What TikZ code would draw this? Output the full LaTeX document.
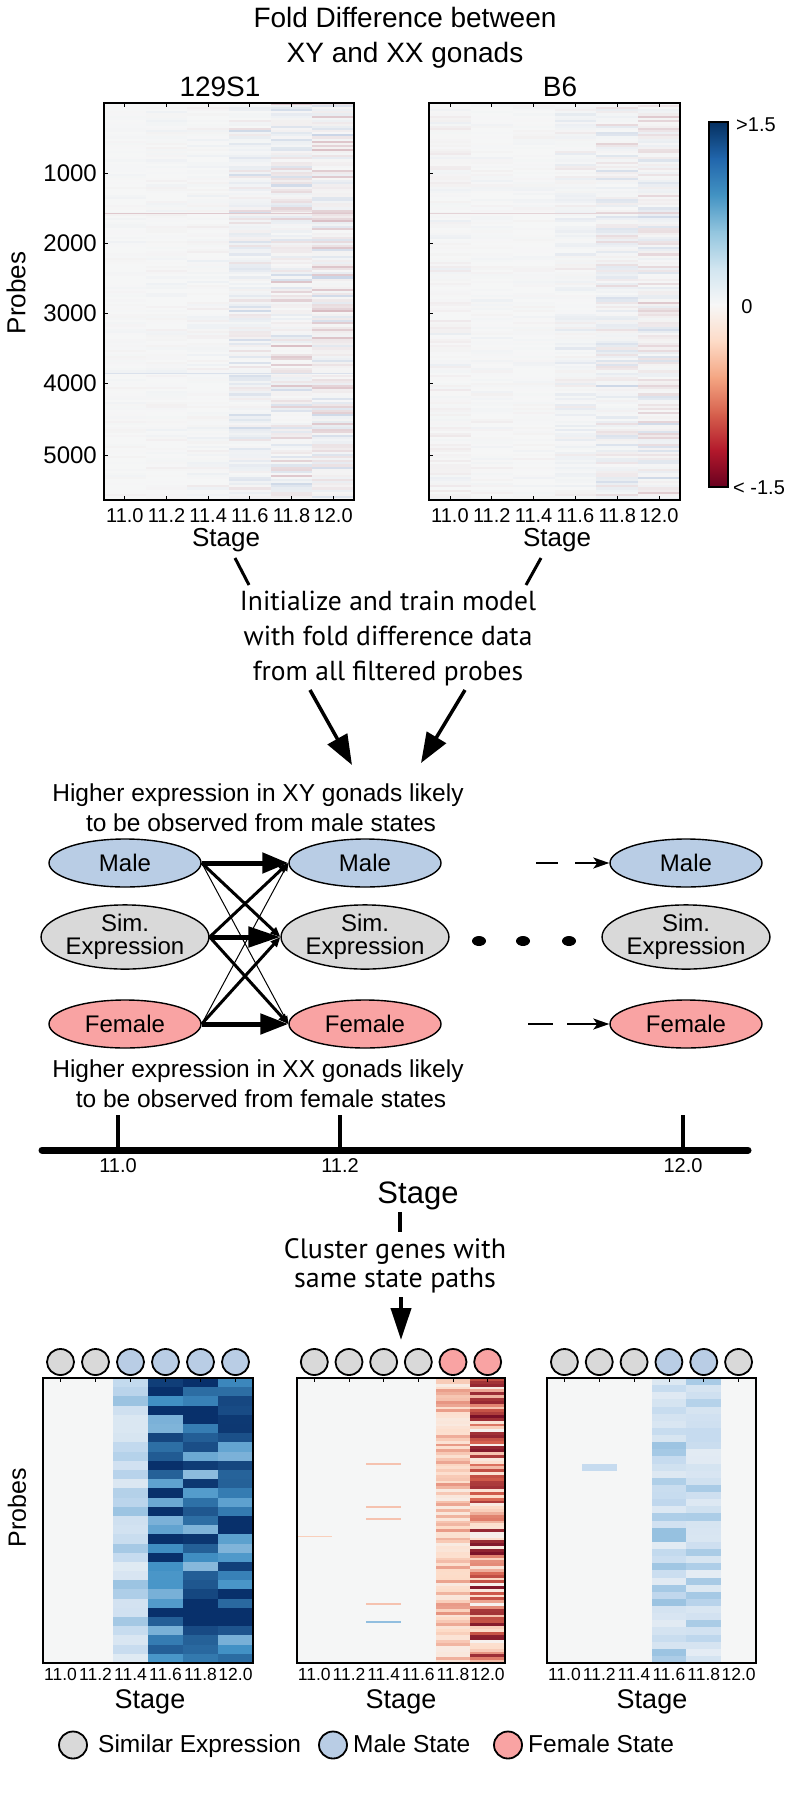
\documentclass[tikz,border=0pt]{standalone}
\usepackage{fontspec}
\setmainfont{Liberation Sans}
\newfontfamily\hum{PT Sans}
\usetikzlibrary{shapes.geometric,arrows.meta}
\definecolor{bgc}{HTML}{F5F6F6}
\definecolor{bL}{HTML}{C6DBEF}
\definecolor{bM}{HTML}{4292C6}
\definecolor{bD}{HTML}{08306B}
\definecolor{rL}{HTML}{FDDBC7}
\definecolor{rM}{HTML}{D6604D}
\definecolor{rD}{HTML}{67001F}
\definecolor{tB}{HTML}{BFCDE2}
\definecolor{tR}{HTML}{D9BCC2}
\definecolor{maleC}{HTML}{B9CDE5}
\definecolor{simC}{HTML}{D9D9D9}
\definecolor{femC}{HTML}{F9A3A3}
\definecolor{cbA}{HTML}{053061}
\definecolor{cbB}{HTML}{2166AC}
\definecolor{cbC}{HTML}{4393C3}
\definecolor{cbD}{HTML}{92C5DE}
\definecolor{cbE}{HTML}{D1E5F0}
\definecolor{cbF}{HTML}{F7F7F7}
\definecolor{cbG}{HTML}{FDDBC7}
\definecolor{cbH}{HTML}{F4A582}
\definecolor{cbI}{HTML}{D6604D}
\definecolor{cbJ}{HTML}{B2182B}
\definecolor{cbK}{HTML}{67001F}
\newcommand\fsz[2]{\fontsize{#1}{#2}\selectfont}
\newcommand\setcc[1]{%
  \pgfmathsetmacro\ccv{#1}%
  \pgfmathsetmacro\cca{min(1,abs(\ccv))}%
  \ifdim\ccv pt<0pt \def\ccA{rL}\def\ccB{rM}\def\ccC{rD}\else\def\ccA{bL}\def\ccB{bM}\def\ccC{bD}\fi
  \ifdim\cca pt<0.333pt
    \pgfmathtruncatemacro\ccp{\cca*300}\colorlet{cc}{\ccA!\ccp!bgc}%
  \else\ifdim\cca pt<0.666pt
    \pgfmathtruncatemacro\ccp{(\cca-0.333)*300}\colorlet{cc}{\ccB!\ccp!\ccA}%
  \else
    \pgfmathtruncatemacro\ccp{min(100,(\cca-0.666)*300)}\colorlet{cc}{\ccC!\ccp!\ccB}%
  \fi\fi}
\newcommand\hcol[6]{%
  \pgfmathsetmacro\hsh{(#4-#3)/#5}%
  \foreach \hr in {1,...,#5}{%
    \pgfmathsetmacro\hya{#3+(\hr-1)*\hsh}%
    \pgfmathsetmacro\hyb{#3+\hr*\hsh+0.3}%
    \setcc{#6}%
    \fill[cc] (#1,\hya) rectangle (#2,\hyb);%
  }}
\newcommand\hcolT[6]{%
  \pgfmathsetmacro\hsh{(#4-#3)/#5}%
  \foreach \hr in {1,...,#5}{%
    \pgfmathsetmacro\hya{#3+(\hr-1)*\hsh}%
    \pgfmathsetmacro\hyb{#3+\hr*\hsh+0.2}%
    \pgfmathsetmacro\ccv{#6}%
    \pgfmathtruncatemacro\ccp{min(100,abs(\ccv)*100)}%
    \ifdim\ccv pt<0pt \colorlet{cc}{tR!\ccp!bgc}\else\colorlet{cc}{tB!\ccp!bgc}\fi
    \fill[cc] (#1,\hya) rectangle (#2,\hyb);%
  }}
\tikzset{
  hbox/.style={draw=black, line width=1.8pt},
  stt/.style={ellipse, draw=black, line width=1.4pt, minimum width=152pt, minimum height=48pt, inner sep=0pt, align=center, font=\fsz{24}{23}},
  male/.style={stt, fill=maleC},
  sim/.style={stt, fill=simC, minimum height=60pt},
  fem/.style={stt, fill=femC},
  circ/.style={ellipse, draw=black, line width=1.8pt, minimum width=27pt, minimum height=26pt, inner sep=0pt},
  thickarr/.style={line width=5pt, -{Triangle[length=26pt,width=20pt]}},
  medarr/.style={line width=3pt, -{Triangle[length=10pt,width=8pt]}},
  thinarr/.style={line width=1pt, -{Triangle[length=8pt,width=6pt]}},
  bigarr/.style={line width=3.5pt, -{Triangle[length=30pt,width=22pt]}},
  dasharr/.style={line width=2pt, -{Stealth[length=16pt,width=11pt,inset=4pt]}},
  dotn/.style={ellipse, fill=black, minimum width=14pt, minimum height=10pt, inner sep=0pt},
  lbl/.style={anchor=base, inner sep=0pt},
}
\begin{document}
\begin{tikzpicture}[x=1pt,y=-1pt]
\useasboundingbox (0,0) rectangle (793,1814);
\fill[white] (0,0) rectangle (793,1814);
\pgfmathsetseed{11}
% ---------- title ----------
\node[lbl, font=\fsz{28}{34}] (title1) at (405,28) {Fold Difference between};
\node[lbl, font=\fsz{28}{34}] (title2) at (405,63) {XY and XX gonads};
\node[lbl, font=\fsz{28}{34}] (lab129) at (220,97) {129S1};
\node[lbl, font=\fsz{28}{34}] (labB6) at (560,97) {B6};
% ---------- top heatmaps ----------
\fill[bgc] (104,103) rectangle (354,500);
\fill[bgc] (429,103) rectangle (680,500);
\foreach \c/\I/\B in {1/0.12/0,2/0.16/0,3/0.22/0,4/0.7/0.1,5/0.95/-0.05,6/1.0/-0.1}{%
  \pgfmathsetmacro\xa{104+(\c-1)*250/6}%
  \pgfmathsetmacro\xb{104+\c*250/6}%
  \hcolT{\xa}{\xb}{103}{500}{190}{\I*rand*abs(rand)+\B}%
}
\foreach \c/\I/\B in {1/0.28/-0.03,2/0.18/0,3/0.14/0,4/0.35/0.04,5/0.8/0.05,6/0.85/-0.05}{%
  \pgfmathsetmacro\xa{429+(\c-1)*251/6}%
  \pgfmathsetmacro\xb{429+\c*251/6}%
  \hcolT{\xa}{\xb}{103}{500}{190}{\I*rand*abs(rand)+\B}%
}
\fill[tR!80!bgc] (104,212.5) rectangle (354,214);
\fill[tR!60!bgc] (429,212.5) rectangle (680,214);
\fill[tB!50!bgc] (104,372.5) rectangle (354,374);
\draw[hbox] (104,103) rectangle (354,500);
\draw[hbox] (429,103) rectangle (680,500);
\foreach \c in {1,...,6}{%
  \draw[line width=0.8pt] ({104+(\c-0.5)*250/6},103) -- ++(0,4);
  \draw[line width=0.8pt] ({104+(\c-0.5)*250/6},500) -- ++(0,-4);
  \draw[line width=0.8pt] ({429+(\c-0.5)*251/6},103) -- ++(0,4);
  \draw[line width=0.8pt] ({429+(\c-0.5)*251/6},500) -- ++(0,-4);
}
\foreach \v/\yy in {1000/173,2000/243,3000/313,4000/383,5000/455}{%
  \node[anchor=east, inner sep=0pt, font=\fsz{24}{28}] (yt\v) at (97,\yy) {\v};
  \draw[line width=0.8pt] (104,\yy) -- ++(4,0);
  \draw[line width=0.8pt] (429,\yy) -- ++(4,0);
}
\node[rotate=90, font=\fsz{26}{30}] (probesTop) at (16,293) {Probes};
\foreach \c/\l in {1/11.0,2/11.2,3/11.4,4/11.6,5/11.8,6/12.0}{%
  \node[lbl, font=\fsz{20}{24}] (tx\c) at ({104+(\c-0.5)*250/6},522) {\l};
  \node[lbl, font=\fsz{20}{24}] (ty\c) at ({429+(\c-0.5)*251/6},522) {\l};
}
\node[lbl, font=\fsz{26}{30}] (stageA) at (226,546) {Stage};
\node[lbl, font=\fsz{26}{30}] (stageB) at (557,546) {Stage};
% ---------- colour bar ----------
\foreach \i/\ca/\cb in {0/cbA/cbB,1/cbB/cbC,2/cbC/cbD,3/cbD/cbE,4/cbE/cbF,5/cbF/cbG,6/cbG/cbH,7/cbH/cbI,8/cbI/cbJ,9/cbJ/cbK}{%
  \shade[top color=\ca, bottom color=\cb] (709,{122+\i*36.5}) rectangle (728,{122+(\i+1)*36.5+0.6});
}
\draw[line width=1.5pt] (709,122) rectangle (728,487);
\node[anchor=base west, inner sep=0pt, font=\fsz{20}{24}] (cbtop) at (736,132) {>1.5};
\node[lbl, font=\fsz{20}{24}] (cbmid) at (747,313) {0};
\node[anchor=base west, inner sep=0pt, font=\fsz{20}{24}] (cbbot) at (733,494) {< -1.5};
% ---------- training text ----------
\coordinate (la) at (235,558); \coordinate (lb) at (249,585);
\coordinate (ra) at (541,558); \coordinate (rb) at (526,585);
\draw[line width=3pt] (la) -- (lb);
\draw[line width=3pt] (ra) -- (rb);
\node[lbl, font=\hum\fsz{27.5}{33}] (init1) at (388,610) {Initialize and train model};
\node[lbl, font=\hum\fsz{27.5}{33}] (init2) at (388,645) {with fold difference data};
\node[lbl, font=\hum\fsz{27.5}{33}] (init3) at (388,680) {from all filtered probes};
\coordinate (a1s) at (310,690); \coordinate (a1e) at (352,765);
\coordinate (a2s) at (465,690); \coordinate (a2e) at (421,763);
\draw[bigarr] (a1s) -- (a1e);
\draw[bigarr] (a2s) -- (a2e);
% ---------- HMM ----------
\node[lbl, font=\fsz{24.5}{30}] (hx1) at (258,801) {Higher expression in XY gonads likely};
\node[lbl, font=\fsz{24.5}{30}] (hx2) at (261,831) {to be observed from male states};
\node[male] (m1) at (125,863) {Male};
\node[sim]  (s1) at (125,937) {Sim.\\Expression};
\node[fem]  (f1) at (125,1024) {Female};
\node[male] (m2) at (365,863) {Male};
\node[sim]  (s2) at (365,937) {Sim.\\Expression};
\node[fem]  (f2) at (365,1024) {Female};
\node[male] (m3) at (686,863) {Male};
\node[sim]  (s3) at (686,937) {Sim.\\Expression};
\node[fem]  (f3) at (686,1024) {Female};
\draw[thinarr] (m1.east) -- (f2.west);
\draw[thinarr] (f1.east) -- (m2.west);
\draw[medarr] (m1.east) -- (s2.west);
\draw[medarr] (s1.east) -- (m2.west);
\draw[medarr] (s1.east) -- (f2.west);
\draw[medarr] (f1.east) -- (s2.west);
\draw[thickarr] (m1.east) -- (m2.west);
\draw[thickarr, -{Triangle[length=32pt,width=20pt]}] (s1.east) -- (s2.west);
\draw[thickarr, -{Triangle[length=28pt,width=20pt]}] (f1.east) -- (f2.west);
\coordinate (dm) at (536,863);
\coordinate (df) at (528,1024);
\draw[dasharr, dash pattern=on 22pt off 17pt on 90pt] (dm) -- (m3.west);
\draw[dasharr, dash pattern=on 25pt off 14pt on 90pt] (df) -- (f3.west);
\node[dotn] (dot1) at (479,941) {};
\node[dotn] (dot2) at (523,941) {};
\node[dotn] (dot3) at (569,941) {};
\node[lbl, font=\fsz{24.5}{30}] (hy1) at (258,1077) {Higher expression in XX gonads likely};
\node[lbl, font=\fsz{24.5}{30}] (hy2) at (261,1107) {to be observed from female states};
% ---------- time line ----------
\coordinate (tl1) at (42,1150); \coordinate (tl2) at (748,1150);
\draw[line width=7pt, line cap=round] (tl1) -- (tl2);
\foreach \n/\xx/\l in {1/118/11.0,2/340/11.2,3/683/12.0}{%
  \coordinate (tk\n) at (\xx,1115);
  \coordinate (tb\n) at (\xx,1150);
  \draw[line width=3.5pt] (tk\n) -- (tb\n);
  \node[lbl, font=\fsz{20}{24}] (tlab\n) at (\xx,1172) {\l};
}
\node[lbl, font=\fsz{31}{36}] (stageT) at (418,1203) {Stage};
\coordinate (vs) at (400,1212); \coordinate (ve) at (400,1232);
\draw[line width=4pt] (vs) -- (ve);
\node[lbl, font=\hum\fsz{28}{33}] (cl1) at (395,1258) {Cluster genes with};
\node[lbl, font=\hum\fsz{28}{33}] (cl2) at (395,1287) {same state paths};
\coordinate (dsA) at (401,1297); \coordinate (dsB) at (401,1340);
\draw[line width=4pt, -{Triangle[length=32pt,width=20pt]}] (dsA) -- (dsB);
% ---------- bottom heatmaps ----------
\fill[bgc] (43,1378) rectangle (253,1663);
\fill[bgc] (297,1378) rectangle (505,1663);
\fill[bgc] (547,1378) rectangle (756,1663);
\hcol{113}{148}{1378}{1663}{31}{0.3+0.15*rand}
\foreach \c in {4,5,6}{%
  \pgfmathsetmacro\xa{43+(\c-1)*35}\pgfmathsetmacro\xb{\xa+35}%
  \hcol{\xa}{\xb}{1378}{1663}{31}{0.8+0.32*rand}%
}
\hcol{435.67}{470.33}{1378}{1663}{100}{-(0.33+0.2*rand)}
\hcol{470.33}{505}{1378}{1663}{100}{-(0.5+0.45*rand)}
\fill[rL!90!rM] (297,1535.5) rectangle (331.7,1537);
\foreach \yy in {1463,1506,1518,1603}{\fill[rL!80!rM] (366.3,\yy) rectangle (401,\yy+1.5);}
\fill[bL!60!bM] (366.3,1621) rectangle (401,1622.5);
\hcol{651.5}{686.3}{1378}{1663}{40}{0.3+0.17*rand}
\hcol{686.3}{721.2}{1378}{1663}{40}{0.27+0.16*rand}
\fill[bL] (581.8,1464) rectangle (616.7,1471);
\draw[hbox, line width=2.4pt] (43,1378) rectangle (253,1663);
\draw[hbox, line width=2.4pt] (297,1378) rectangle (505,1663);
\draw[hbox, line width=2.4pt] (547,1378) rectangle (756,1663);
\foreach \c/\l in {1/11.0,2/11.2,3/11.4,4/11.6,5/11.8,6/12.0}{%
  \draw[line width=0.8pt] ({43+(\c-0.5)*35},1378) -- ++(0,4);
  \draw[line width=0.8pt] ({297+(\c-0.5)*208/6},1378) -- ++(0,4);
  \draw[line width=0.8pt] ({547+(\c-0.5)*209/6},1378) -- ++(0,4);
  \node[lbl, font=\fsz{17.5}{22}] (ba\c) at ({43+(\c-0.5)*35},1680) {\l};
  \node[lbl, font=\fsz{17.5}{22}] (bb\c) at ({297+(\c-0.5)*208/6},1680) {\l};
  \node[lbl, font=\fsz{17.5}{22}] (bc\c) at ({547+(\c-0.5)*209/6},1680) {\l};
}
\foreach \c/\col in {1/simC,2/simC,3/maleC,4/maleC,5/maleC,6/maleC}{%
  \node[circ, fill=\col] (ca\c) at ({43+(\c-0.5)*35},1362) {};}
\foreach \c/\col in {1/simC,2/simC,3/simC,4/simC,5/femC,6/femC}{%
  \node[circ, fill=\col] (cb\c) at ({297+(\c-0.5)*208/6},1362) {};}
\foreach \c/\col in {1/simC,2/simC,3/simC,4/maleC,5/maleC,6/simC}{%
  \node[circ, fill=\col] (cc\c) at ({547+(\c-0.5)*209/6},1362) {};}
\node[lbl, font=\fsz{27}{32}] (stg1) at (150,1708) {Stage};
\node[lbl, font=\fsz{27}{32}] (stg2) at (401,1708) {Stage};
\node[lbl, font=\fsz{27}{32}] (stg3) at (652,1708) {Stage};
\node[rotate=90, font=\fsz{25}{30}] (probesBot) at (17,1508) {Probes};
% ---------- legend ----------
\node[circ, fill=simC, minimum width=28pt, minimum height=27pt] (lg1) at (73,1745) {};
\node[anchor=base west, inner sep=0pt, font=\fsz{24.5}{30}] (lt1) at (98,1752) {Similar Expression};
\node[circ, fill=maleC, minimum width=28pt, minimum height=27pt] (lg2) at (333,1745) {};
\node[anchor=base west, inner sep=0pt, font=\fsz{24.5}{30}] (lt2) at (353,1752) {Male State};
\node[circ, fill=femC, minimum width=28pt, minimum height=27pt] (lg3) at (508,1745) {};
\node[anchor=base west, inner sep=0pt, font=\fsz{24.5}{30}] (lt3) at (528,1752) {Female State};
\end{tikzpicture}
\end{document}
